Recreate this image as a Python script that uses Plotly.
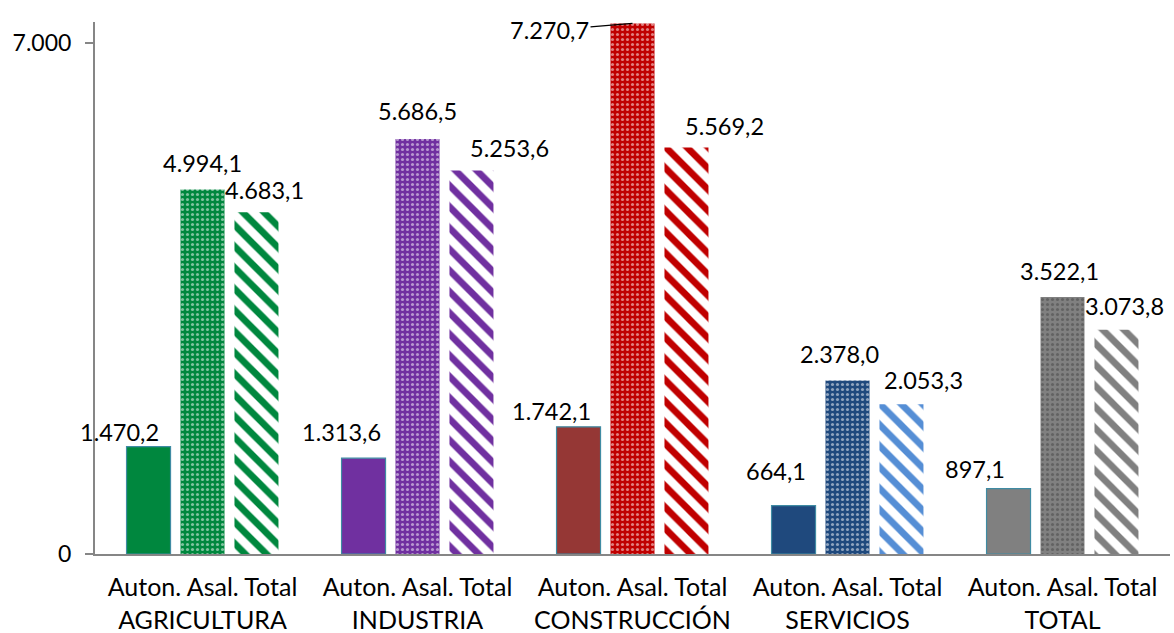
import plotly.graph_objects as go

# ---- data ----
groups = ["AGRICULTURA", "INDUSTRIA", "CONSTRUCCIÓN", "SERVICIOS", "TOTAL"]
subs = ["Auton.", "Asal.", "Total"]
auton = [1470.2, 1313.6, 1742.1, 664.1, 897.1]
asal = [4994.1, 5686.5, 7270.7, 2378.0, 3522.1]
total = [4683.1, 5253.6, 5569.2, 2053.3, 3073.8]
y_tickvals = [0, 7000]
y_ticktext = ["0", "7.000"]

# ---- styles ----
auton_colors = ["#00873E", "#7030A0", "#953735", "#1F497D", "#808080"]
asal_colors = ["#00873E", "#7030A0", "#C00000", "#1F497D", "#808080"]
total_colors = ["#00873E", "#7030A0", "#C00000", "#558ED5", "#808080"]
border_color = "#3F8BA3"
axis_color = "#868686"
FONT = "Lato"
FS = 25
FS_LBL = 23.5
FS_Y = 23

# label offsets (px) relative to each bar centre/top: (dx, dy)
bar_offsets = [-54, 0, 54]
label_dx = [[-29, 0, 8], [-22, 0, 38], [-27, None, 38], [-18, -8, 22], [-34, -3, 8]]
label_dy = [[15, 27, 22], [26, 28, 23], [16, None, 22], [35, 26, 24], [20, 26, 24]]


def fmt(v):
    s = f"{v:,.1f}"
    return s.replace(",", "X").replace(".", ",").replace("X", ".")


fig = go.Figure()
fig.add_trace(go.Bar(
    x=groups, y=auton, name=subs[0],
    marker=dict(color=auton_colors, line=dict(color=border_color, width=1.2)),
))
fig.add_trace(go.Bar(
    x=groups, y=asal, name=subs[1],
    marker=dict(color=asal_colors, line=dict(width=0),
                pattern=dict(shape=".", fgcolor="white", bgcolor=asal_colors,
                             size=5, solidity=0.3, fillmode="overlay")),
))
fig.add_trace(go.Bar(
    x=groups, y=total, name=subs[2],
    marker=dict(color=total_colors, line=dict(width=0),
                pattern=dict(shape="\\", fgcolor=total_colors, bgcolor="white",
                             size=15, solidity=0.45, fillmode="replace")),
))

series = [auton, asal, total]
annotations = []
for gi, g in enumerate(groups):
    for si, s in enumerate(series):
        v = s[gi]
        if label_dx[gi][si] is None:
            annotations.append(dict(
                x=g, y=v, xref="x", yref="y", text=fmt(v),
                showarrow=True, arrowhead=0, arrowwidth=1.2, arrowcolor="black",
                ax=-83, ay=7, xshift=bar_offsets[si],
                font=dict(family=FONT, size=FS_LBL, color="black"),
            ))
        else:
            annotations.append(dict(
                x=g, y=v, xref="x", yref="y", text=fmt(v), showarrow=False,
                xshift=bar_offsets[si] + label_dx[gi][si], yshift=label_dy[gi][si],
                yanchor="middle", xanchor="center",
                font=dict(family=FONT, size=FS_LBL, color="black"),
            ))

ticktext = [" ".join(subs) + "<br>" + g for g in groups]

fig.update_layout(
    width=1174, height=633,
    margin=dict(l=95, r=4, t=22, b=79),
    paper_bgcolor="white", plot_bgcolor="white",
    barmode="group", bargap=0.247, bargroupgap=0.185,
    showlegend=False,
    font=dict(family=FONT, size=FS, color="black"),
    annotations=annotations,
    xaxis=dict(
        tickmode="array", tickvals=groups, ticktext=ticktext,
        range=[-0.5, len(groups) - 0.5],
        showline=True, linecolor=axis_color, linewidth=2,
        ticks="", showgrid=False, ticklabelstandoff=10, automargin=False,
        tickfont=dict(family=FONT, size=FS, color="black"),
    ),
    yaxis=dict(
        range=[0, 7290], tickmode="array", tickvals=y_tickvals, ticktext=y_ticktext,
        showline=True, linecolor=axis_color, linewidth=2,
        ticks="outside", ticklen=8, tickwidth=1.5, tickcolor=axis_color,
        showgrid=False, zeroline=False, ticklabelstandoff=9, automargin=False,
        tickfont=dict(family=FONT, size=FS_Y, color="black"),
    ),
)

fig.write_html("out.html", config={"displayModeBar": False},
               post_script="document.body.style.margin='0';")
